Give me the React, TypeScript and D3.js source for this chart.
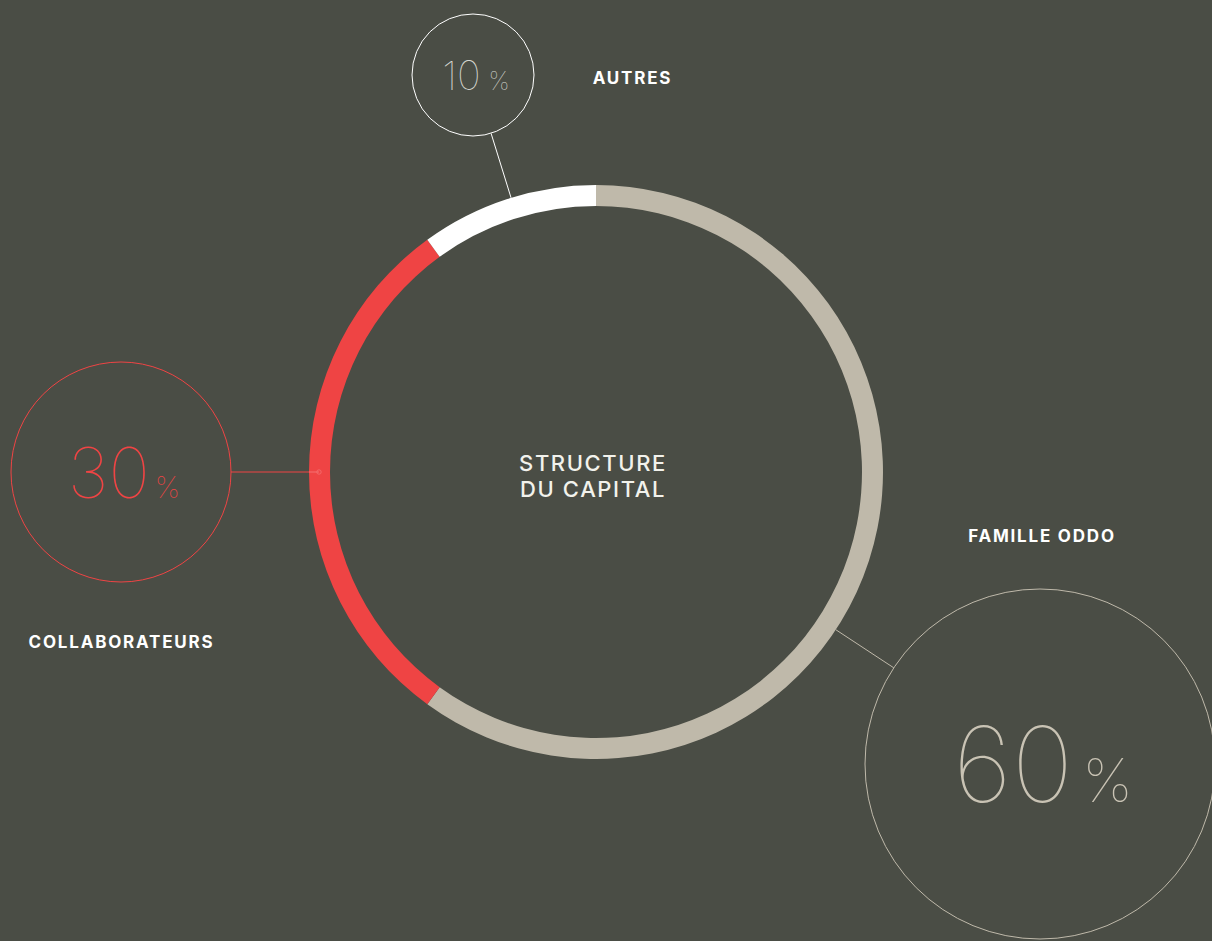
import React from "react";
import * as d3 from "d3";

// ---- data ----
const categories = ["FAMILLE ODDO", "COLLABORATEURS", "AUTRES"];
const shares = [60, 30, 10];
const centerTitle = ["STRUCTURE", "DU CAPITAL"];

// ---- styling / layout (separate from data) ----
const W = 1212;
const H = 941;
const BG = "#4a4d45";
const colors = ["#bfb9aa", "#ef4444", "#ffffff"];
const numberColors = ["#c9c3b4", "#ef4444", "#d6d6d0"];
const bubbleCenters: [number, number][] = [
  [1040, 764],
  [121, 472],
  [473, 75],
];
const bubbleRadii = [175, 110, 61];
const numSizes = [104, 70, 40];
const pctSizes = [60, 30, 25];
const pctGaps = [9, 5, 8];
const labelPos: [number, number][] = [
  [1042, 542],
  [121.5, 648],
  [632.5, 84],
];

const cx = 596;
const cy = 472;
const outerR = 287;
const innerR = 266;

export default function App() {
  const pie = d3
    .pie<number>()
    .sort(null)
    .value((d) => d)
    .startAngle(0)
    .endAngle(2 * Math.PI);
  const arcs = pie(shares);
  const arcGen = d3
    .arc<d3.PieArcDatum<number>>()
    .innerRadius(innerR)
    .outerRadius(outerR);

  const unit = (i: number) => {
    const [bx, by] = bubbleCenters[i];
    const dx = bx - cx;
    const dy = by - cy;
    const len = Math.hypot(dx, dy);
    return [dx / len, dy / len];
  };

  return (
    <svg
      width={W}
      height={H}
      style={{ position: "absolute", left: 0, top: 0, display: "block" }}
    >
      <rect x={0} y={0} width={W} height={H} fill={BG} />
      {/* connectors */}
      {categories.map((c, i) => {
        const [bx, by] = bubbleCenters[i];
        const [ux, uy] = unit(i);
        const r = bubbleRadii[i];
        return (
          <line
            key={"c" + c}
            x1={bx - ux * r}
            y1={by - uy * r}
            x2={cx + ux * outerR}
            y2={cy + uy * outerR}
            stroke={colors[i]}
            strokeWidth={1}
          />
        );
      })}
      {/* donut */}
      <g transform={`translate(${cx},${cy})`}>
        {arcs.map((a, i) => (
          <path key={"a" + i} d={arcGen(a) || ""} fill={colors[i]} />
        ))}
      </g>
      {/* small marker inside the red ring */}
      {(() => {
        const [ux, uy] = unit(1);
        const x2 = cx + ux * (outerR - 10);
        const y2 = cy + uy * (outerR - 10);
        return (
          <g>
            <line
              x1={cx + ux * outerR}
              y1={cy + uy * outerR}
              x2={x2}
              y2={y2}
              stroke="#f47070"
              strokeWidth={1}
            />
            <circle cx={x2} cy={y2} r={2.2} fill="none" stroke="#f47070" strokeWidth={0.8} />
          </g>
        );
      })()}
      {/* center title */}
      {centerTitle.map((t, k) => (
        <text
          key={"t" + k}
          x={593}
          y={471 + k * 26}
          textAnchor="middle"
          fill="#f2f2ec"
          fontFamily="Inter, 'Open Sans', sans-serif"
          fontSize={22}
          fontWeight={500}
          letterSpacing={1.6}
        >
          {t}
        </text>
      ))}
      {/* bubbles */}
      {categories.map((c, i) => {
        const [bx, by] = bubbleCenters[i];
        const r = bubbleRadii[i];
        return (
          <g key={"b" + c}>
            <circle cx={bx} cy={by} r={r} fill="none" stroke={colors[i]} strokeWidth={1} />
            <text
              x={bx + 3}
              y={by + numSizes[i] * 0.365}
              textAnchor="middle"
              fill={numberColors[i]}
              fontFamily="Inter, Lato, sans-serif"
              fontWeight={100}
            >
              <tspan fontSize={numSizes[i]}>{shares[i]}</tspan>
              <tspan fontSize={pctSizes[i]} dx={pctGaps[i]}>
                %
              </tspan>
            </text>
            <text
              x={labelPos[i][0]}
              y={labelPos[i][1]}
              textAnchor="middle"
              fill="#ffffff"
              fontFamily="Inter, 'Open Sans', sans-serif"
              fontSize={17}
              fontWeight={700}
              letterSpacing={1.8}
            >
              {c}
            </text>
          </g>
        );
      })}
    </svg>
  );
}
